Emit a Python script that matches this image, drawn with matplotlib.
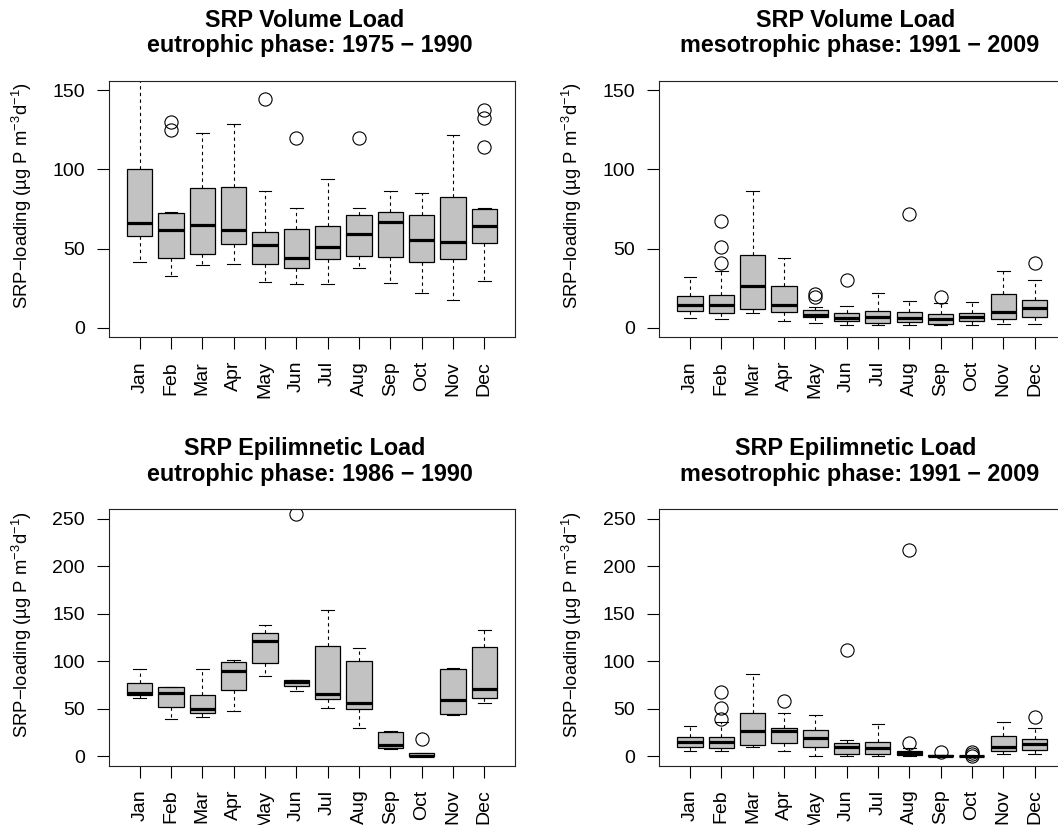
import matplotlib
matplotlib.use('Agg')
import matplotlib.pyplot as plt

plt.rcParams['font.family'] = ['Liberation Sans', 'DejaVu Sans']
plt.rcParams['mathtext.fontset'] = 'custom'
plt.rcParams['mathtext.rm'] = 'Liberation Sans'
plt.rcParams['mathtext.it'] = 'Liberation Sans:italic'
plt.rcParams['mathtext.bf'] = 'Liberation Sans:bold'

months = ['Jan', 'Feb', 'Mar', 'Apr', 'May', 'Jun', 'Jul', 'Aug', 'Sep', 'Oct', 'Nov', 'Dec']

# Panel 1: SRP Volume Load, eutrophic phase 1975-1990
vol_eu_q1 = [57.7, 44.0, 46.8, 52.9, 40.4, 37.7, 43.6, 45.5, 44.9, 41.7, 43.6, 53.5]
vol_eu_med = [66.4, 61.9, 64.9, 61.5, 52.2, 44.2, 50.8, 59.2, 66.8, 55.2, 54.1, 64.5]
vol_eu_q3 = [100.0, 72.7, 88.1, 88.9, 60.3, 62.6, 64.0, 71.2, 73.3, 71.2, 82.6, 75.2]
vol_eu_lo = [41.7, 32.7, 39.6, 40.2, 29.1, 27.8, 27.4, 37.5, 28.4, 21.9, 17.5, 29.3]
vol_eu_hi = [175.0, 72.9, 123.2, 129.1, 86.6, 75.6, 94.2, 75.8, 86.6, 85.3, 122.0, 75.8]
vol_eu_out = [[], [130.0, 124.7], [], [], [144.3], [119.9], [], [120.1], [], [], [], [137.8, 132.5, 114.2]]

# Panel 2: SRP Volume Load, mesotrophic phase 1991-2009
vol_me_q1 = [10.5, 9.1, 11.8, 9.9, 6.5, 4.4, 2.9, 3.6, 2.5, 4.0, 5.7, 6.7]
vol_me_med = [14.5, 14.5, 26.5, 14.1, 8.2, 6.3, 6.5, 5.9, 5.5, 6.7, 9.7, 12.4]
vol_me_q3 = [20.2, 20.6, 45.7, 26.5, 11.0, 9.5, 10.7, 9.9, 8.6, 9.3, 21.1, 17.3]
vol_me_lo = [5.9, 5.3, 9.3, 4.2, 2.9, 1.5, 1.5, 1.5, 1.5, 1.9, 2.1, 2.1]
vol_me_hi = [32.0, 35.8, 86.6, 44.0, 12.9, 13.5, 21.9, 16.9, 15.2, 16.0, 35.6, 29.9]
vol_me_out = [[], [67.6, 50.8, 41.1], [], [], [21.1, 19.2], [30.1], [], [71.6], [19.0], [], [], [40.9]]

# Panel 3: SRP Epilimnetic Load, eutrophic phase 1986-1990
epi_eu_q1 = [64.7, 51.7, 45.7, 69.3, 97.7, 73.8, 60.5, 49.9, 9.1, 0.0, 44.0, 61.2]
epi_eu_med = [66.8, 66.8, 49.2, 89.7, 121.3, 78.1, 65.8, 56.3, 11.6, 0.7, 59.4, 71.0]
epi_eu_q3 = [77.0, 72.4, 64.0, 98.9, 129.7, 80.5, 116.4, 100.6, 25.0, 3.9, 91.8, 114.6]
epi_eu_lo = [60.8, 39.0, 41.1, 47.1, 84.4, 68.2, 51.0, 29.9, 8.1, 0.0, 43.6, 55.6]
epi_eu_hi = [92.1, 73.1, 91.4, 101.1, 138.2, 80.5, 153.7, 113.6, 26.4, 3.9, 93.2, 132.9]
epi_eu_out = [[], [], [], [], [], [254.6], [], [], [], [17.9], [], []]

# Panel 4: SRP Epilimnetic Load, mesotrophic phase 1991-2009
epi_me_q1 = [9.8, 9.1, 11.6, 13.4, 9.5, 2.1, 2.5, 1.0, 0.0, 0.0, 5.6, 6.7]
epi_me_med = [15.1, 14.8, 26.7, 26.7, 19.3, 9.5, 8.8, 3.5, 0.6, 0.2, 9.8, 12.7]
epi_me_q3 = [19.7, 20.4, 45.7, 29.9, 27.4, 13.7, 15.1, 6.0, 1.0, 0.4, 21.4, 17.6]
epi_me_lo = [6.0, 5.3, 9.5, 6.0, 0.7, 0.4, 0.4, 0.0, 0.0, 0.0, 2.1, 2.1]
epi_me_hi = [32.0, 35.5, 86.9, 45.0, 42.9, 17.2, 33.4, 8.8, 1.2, 0.6, 35.5, 29.9]
epi_me_out = [[], [67.5, 50.6, 39.4], [], [58.4], [], [112.2], [], [217.3, 14.4], [4.6], [4.5, 2.0, 0.3], [], [40.8]]

titles = [
    ('SRP Volume Load', 'eutrophic phase: 1975 \u2212 1990'),
    ('SRP Volume Load', 'mesotrophic phase: 1991 \u2212 2009'),
    ('SRP Epilimnetic Load', 'eutrophic phase: 1986 \u2212 1990'),
    ('SRP Epilimnetic Load', 'mesotrophic phase: 1991 \u2212 2009'),
]
yticks_top = [0, 50, 100, 150]
yticks_bottom = [0, 50, 100, 150, 200, 250]
ylabel = 'SRP\u2212loading (\u00b5g P m$^{-3}$d$^{-1}$)'

panels = [
    (vol_eu_q1, vol_eu_med, vol_eu_q3, vol_eu_lo, vol_eu_hi, vol_eu_out),
    (vol_me_q1, vol_me_med, vol_me_q3, vol_me_lo, vol_me_hi, vol_me_out),
    (epi_eu_q1, epi_eu_med, epi_eu_q3, epi_eu_lo, epi_eu_hi, epi_eu_out),
    (epi_me_q1, epi_me_med, epi_me_q3, epi_me_lo, epi_me_hi, epi_me_out),
]

W, H = 1058, 825
fig = plt.figure(figsize=(W / 100, H / 100), dpi=100)

# axes boxes in pixels: left, top, width, height
boxes_px = [
    (109.0, 81.0, 406.0, 256.0),
    (659.3, 81.0, 406.0, 256.0),
    (109.0, 509.3, 406.0, 256.4),
    (659.3, 509.3, 406.0, 256.4),
]
ylims = [(0, 150), (0, 150), (0, 250), (0, 250)]
yticks_list = [yticks_top, yticks_top, yticks_bottom, yticks_bottom]

FS = 14
for i, (bx, data) in enumerate(zip(boxes_px, panels)):
    l, t, w, h = bx
    ax = fig.add_axes([l / W, 1 - (t + h) / H, w / W, h / H])
    q1, med, q3, lo, hi, out = data
    stats = []
    for k in range(12):
        stats.append(dict(q1=q1[k], med=med[k], q3=q3[k], whislo=lo[k],
                          whishi=hi[k], fliers=out[k], label=months[k]))
    positions = list(range(1, 13))
    ax.bxp(stats, positions=positions, widths=0.8, capwidths=0.4,
           patch_artist=True, manage_ticks=False,
           boxprops=dict(facecolor='#c2c2c2', edgecolor='black', linewidth=0.9),
           medianprops=dict(color='black', linewidth=2.3, solid_capstyle='butt'),
           whiskerprops=dict(color='black', linewidth=0.8, linestyle=(0, (3, 3))),
           capprops=dict(color='black', linewidth=0.8),
           flierprops=dict(marker='o', markerfacecolor='none', markeredgecolor='black',
                           markersize=9.5, markeredgewidth=0.8))
    ymin, ymax = ylims[i]
    ext = 0.04 * (ymax - ymin)
    ax.set_ylim(ymin - ext, ymax + ext)
    ax.set_xlim(0.5 - 0.48, 12.5 + 0.48)
    ax.set_xticks(positions)
    ax.set_xticklabels(months, rotation=90, fontsize=FS, va='top')
    ax.set_yticks(yticks_list[i])
    ax.set_yticklabels([str(v) for v in yticks_list[i]], fontsize=FS)
    ax.tick_params(axis='both', direction='out', length=8.6, width=0.8, pad=8.6, color='black')
    for s in ax.spines.values():
        s.set_linewidth(0.8)
        s.set_color('#222222')

    cx = l + w / 2
    t1, t2 = titles[i]
    fig.text((cx - 7) / W, 1 - (t - 54.3) / H, t1, ha='center', va='baseline',
             fontsize=16.8, fontweight='bold')
    fig.text((cx - 2.5) / W, 1 - (t - 28.7) / H, t2, ha='center', va='baseline',
             fontsize=16.8, fontweight='bold')
    fig.text((l - 87.3) / W, 1 - (t + h / 2 - 13.5) / H, ylabel, rotation=90,
             ha='center', va='center', fontsize=13.3)

fig.savefig('out.png', dpi=100)
